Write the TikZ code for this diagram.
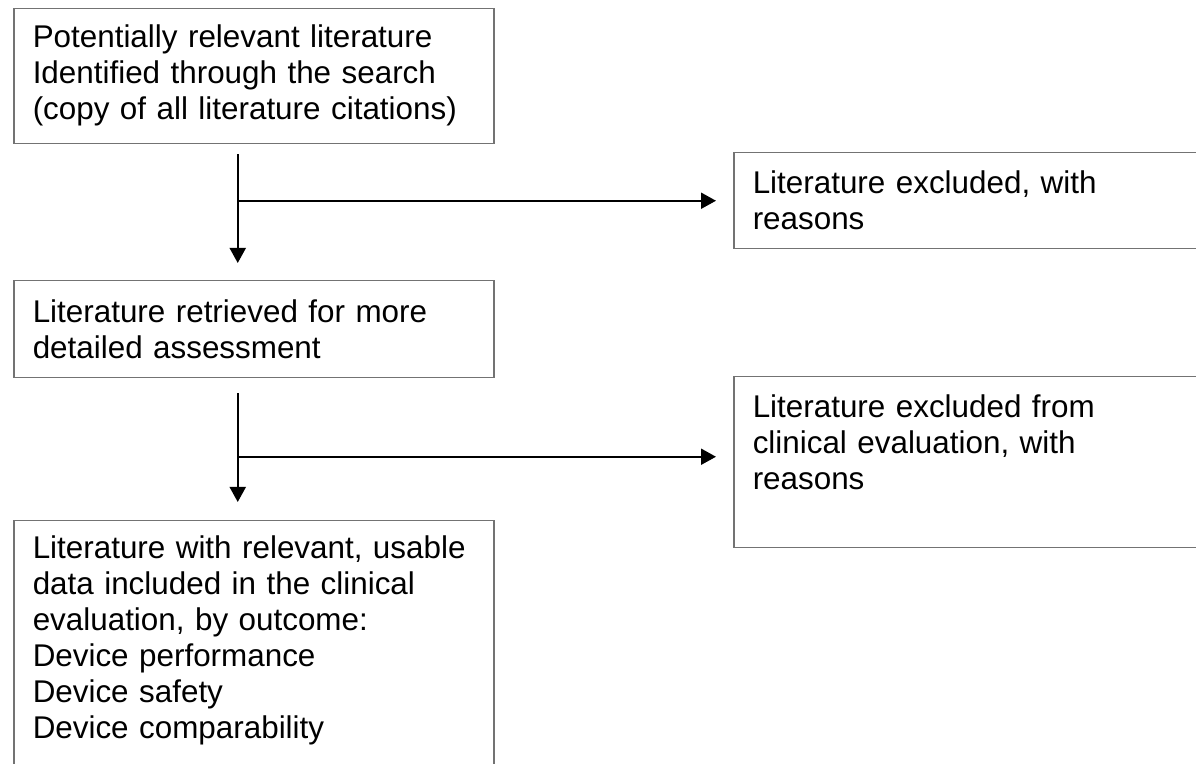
\documentclass[tikz,border=0pt]{standalone}
\usepackage{fontspec}
\setmainfont{Liberation Sans}
\usetikzlibrary{arrows.meta}
\begin{document}
\begin{tikzpicture}[x=0.5pt,y=-0.5pt,
  every node/.style={draw=black!55,line width=0.75pt,anchor=north west,align=left,inner xsep=9.5pt,inner ysep=0pt,font=\fontsize{15.7pt}{18pt}\selectfont},
  flow/.style={line width=1pt,-{Triangle[length=7.5pt,width=8pt]}}]
\clip (0,0) rectangle (1196,764);
\node[text width=221pt,text height=19.5pt,text depth=48pt] (srch) at (13,8) {Potentially relevant literature\\Identified through the search\\(copy of all literature citations)};
\node[text width=300pt,text height=20.5pt,text depth=27.5pt] (exa) at (733,152) {Literature excluded, with\\reasons};
\node[text width=221pt,text height=21pt,text depth=27.5pt] (ret) at (13,280) {Literature retrieved for more\\detailed assessment};
\node[text width=300pt,text height=20.5pt,text depth=65pt] (exb) at (733,376) {Literature excluded from\\clinical evaluation, with\\reasons};
\node[text width=221pt,text height=19pt,text depth=150pt] (inc) at (13,520) {Literature with relevant, usable\\data included in the clinical\\evaluation, by outcome:\\Device performance\\Device safety\\Device comparability};
% trunk lines sit left of the box centres
\coordinate (t1) at ([xshift=-8pt]srch.south);
\coordinate (t2) at ([xshift=-8pt]ret.south);
\coordinate (e2) at ([yshift=2.75pt]exb.west);
\draw[flow,shorten <=5pt,shorten >=8.5pt] (t1) -- (t1 |- ret.north);
\draw[flow,shorten >=8.5pt] (t1 |- exa.west) -- (exa.west);
\draw[flow,shorten <=7.5pt,shorten >=9pt] (t2) -- (t2 |- inc.north);
\draw[flow,shorten >=8.5pt] (t2 |- e2) -- (e2);
\end{tikzpicture}
\end{document}
